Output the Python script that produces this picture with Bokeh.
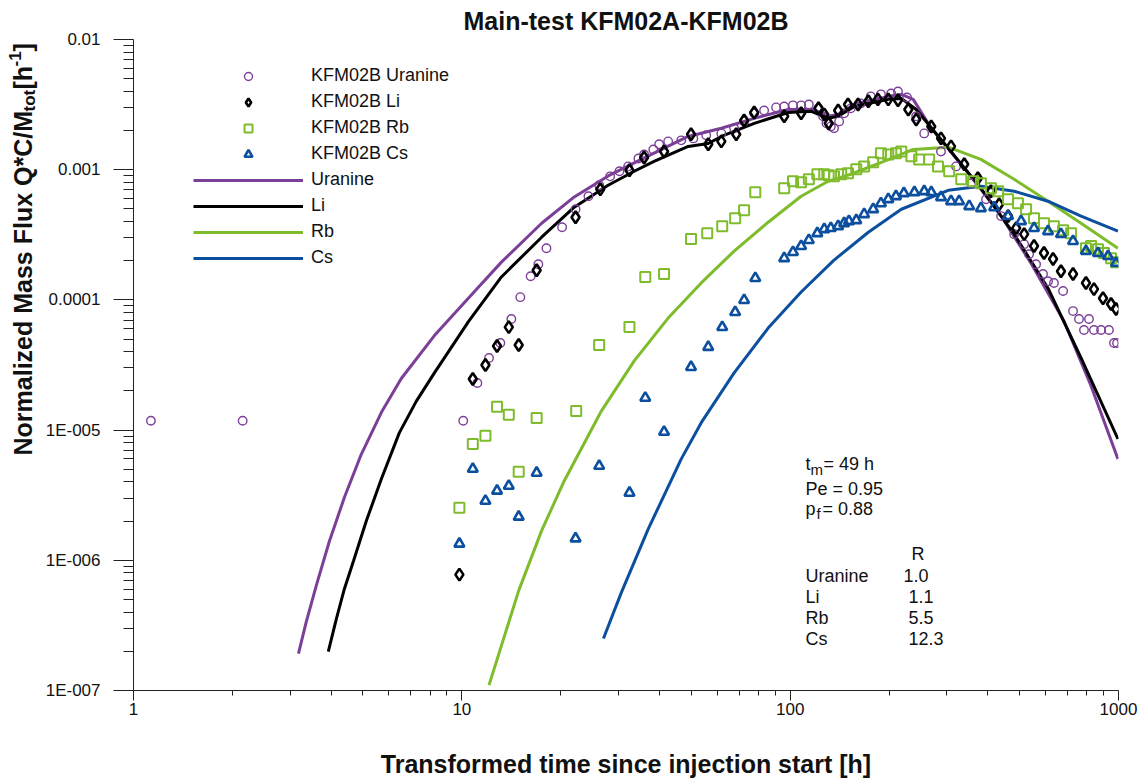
import math
from bokeh.plotting import figure
from bokeh.layouts import row
from bokeh.models import FixedTicker, CustomJSTickFormatter, Label, Legend, LegendItem
from bokeh.embed import file_html
from bokeh.resources import INLINE

# ---------------- data ----------------
x_tick_values = [1, 10, 100, 1000]
x_tick_labels = ["1", "10", "100", "1000"]
y_tick_values = [1e-7, 1e-6, 1e-5, 1e-4, 1e-3, 1e-2]
y_tick_labels = ["1E-007", "1E-006", "1E-005", "0.0001", "0.001", "0.01"]

uranine_t = [1.13, 2.15, 10.1, 11.15, 12.1, 13.1, 14.15, 15.07, 16.2, 17.1, 18.1, 20.2, 22.2, 24.3,
             26.2, 28.3, 30.2, 32.1, 34.5, 35.9, 38.3, 39.9, 42.5, 46.6, 50.7, 55.5, 61.7, 67.5,
             72.4, 77.7, 83.3, 90.6, 95.9, 102, 108, 114, 122, 126, 129, 133, 136, 141, 146, 153,
             164, 176, 189, 203, 213, 227, 242, 256, 288, 320, 356, 395, 439, 481, 516, 534, 561,
             589, 610, 636, 678, 727, 758, 813, 785, 842, 885, 935, 969, 990]
uranine_c = [1.18e-5, 1.18e-5, 1.18e-5, 2.30e-5, 3.58e-5, 4.67e-5, 7.13e-5, 1.05e-4, 1.52e-4, 1.88e-4,
             2.49e-4, 3.61e-4, 4.97e-4, 6.25e-4, 7.59e-4, 8.89e-4, 9.73e-4, 1.06e-3, 1.22e-3, 1.31e-3,
             1.43e-3, 1.57e-3, 1.65e-3, 1.68e-3, 1.74e-3, 1.84e-3, 1.90e-3, 2.08e-3, 2.35e-3, 2.71e-3,
             2.85e-3, 3.01e-3, 3.06e-3, 3.12e-3, 3.12e-3, 3.17e-3, 2.96e-3, 2.57e-3, 2.27e-3, 2.15e-3,
             2.08e-3, 2.35e-3, 2.71e-3, 2.96e-3, 3.23e-3, 3.66e-3, 3.79e-3, 3.85e-3, 3.99e-3, 3.59e-3,
             2.57e-3, 1.90e-3, 1.38e-3, 1.06e-3, 7.87e-4, 5.93e-4, 4.40e-4, 3.20e-4, 2.68e-4, 2.24e-4,
             1.88e-4, 1.58e-4, 1.39e-4, 1.35e-4, 1.17e-4, 8.20e-5, 7.13e-5, 7.13e-5, 5.87e-5, 5.87e-5,
             5.87e-5, 5.87e-5, 4.67e-5, 4.67e-5]

li_t = [9.83, 10.8, 11.8, 12.8, 13.9, 14.9, 16.9, 22.2, 26.4, 32.4, 35.9, 41.3, 49.9, 56.3, 61.7,
        68.5, 72.4, 77.7, 95.9, 108, 122, 127, 131, 140, 150, 161, 173, 185, 199, 213, 229, 242,
        269, 288, 309, 339, 373, 409, 433, 461, 488, 516, 553, 593, 632, 668, 727, 796, 842, 897,
        949, 983]
li_c = [7.76e-7, 2.47e-5, 3.16e-5, 4.43e-5, 6.18e-5, 4.50e-5, 1.69e-4, 4.31e-4, 7.08e-4, 9.89e-4,
        1.24e-3, 1.38e-3, 1.87e-3, 1.57e-3, 1.65e-3, 1.87e-3, 2.39e-3, 2.75e-3, 2.57e-3, 2.71e-3,
        2.96e-3, 2.66e-3, 2.27e-3, 2.85e-3, 3.17e-3, 3.17e-3, 3.35e-3, 3.47e-3, 3.47e-3, 3.41e-3,
        2.90e-3, 2.43e-3, 2.15e-3, 1.74e-3, 1.51e-3, 1.10e-3, 8.59e-4, 6.83e-4, 5.43e-4, 4.40e-4,
        3.56e-4, 3.20e-4, 2.59e-4, 2.29e-4, 2.06e-4, 1.66e-4, 1.58e-4, 1.35e-4, 1.21e-4, 1.03e-4,
        9.29e-5, 8.50e-5]

rb_t = [9.83, 10.8, 11.8, 12.8, 13.9, 14.9, 16.9, 22.3, 26.2, 32.4, 36.2, 41.3, 49.9, 55.9, 62.1,
        68.0, 72.4, 78.3, 95.9, 102, 108, 114, 121, 127, 131, 136, 143, 150, 159, 168, 179, 189,
        199, 210, 218, 234, 247, 265, 282, 305, 332, 361, 381, 409, 430, 461, 494, 523, 553, 593,
        636, 678, 717, 796, 825, 866, 903, 949, 983]
rb_c = [2.53e-6, 7.83e-6, 9.03e-6, 1.51e-5, 1.31e-5, 4.78e-6, 1.24e-5, 1.40e-5, 4.50e-5, 6.18e-5,
        1.50e-4, 1.58e-4, 2.93e-4, 3.25e-4, 3.68e-4, 4.24e-4, 4.89e-4, 6.71e-4, 7.20e-4, 8.15e-4,
        8.00e-4, 8.44e-4, 9.23e-4, 9.23e-4, 9.06e-4, 8.90e-4, 9.23e-4, 9.38e-4, 1.01e-3, 1.06e-3,
        1.14e-3, 1.34e-3, 1.31e-3, 1.34e-3, 1.38e-3, 1.27e-3, 1.20e-3, 1.20e-3, 1.06e-3, 9.73e-4,
        8.44e-4, 8.15e-4, 7.87e-4, 7.20e-4, 6.83e-4, 5.93e-4, 5.52e-4, 4.97e-4, 4.24e-4, 3.88e-4,
        3.68e-4, 3.43e-4, 3.25e-4, 2.49e-4, 2.59e-4, 2.45e-4, 2.29e-4, 2.09e-4, 1.95e-4]

cs_t = [9.83, 10.8, 11.8, 12.8, 13.9, 14.9, 16.9, 22.2, 26.2, 32.4, 36.2, 41.3, 49.9, 56.3, 62.1,
        68.0, 72.4, 78.3, 95.9, 102, 108, 114, 121, 127, 133, 140, 146, 151, 159, 168, 179, 189,
        199, 210, 222, 239, 256, 269, 288, 309, 327, 351, 381, 418, 461, 505, 553, 610, 668, 727,
        796, 866, 929, 983]
cs_c = [1.34e-6, 5.04e-6, 2.86e-6, 3.42e-6, 3.73e-6, 2.16e-6, 4.70e-6, 1.47e-6, 5.31e-6, 3.30e-6,
        1.77e-5, 9.69e-6, 3.05e-5, 4.35e-5, 6.18e-5, 8.06e-5, 9.97e-5, 1.47e-4, 2.09e-4, 2.33e-4,
        2.59e-4, 2.88e-4, 3.25e-4, 3.49e-4, 3.56e-4, 3.68e-4, 3.88e-4, 4.02e-4, 4.09e-4, 4.55e-4,
        4.97e-4, 5.52e-4, 5.93e-4, 6.25e-4, 6.59e-4, 6.71e-4, 6.83e-4, 6.71e-4, 6.14e-4, 5.73e-4,
        5.73e-4, 5.24e-4, 5.06e-4, 5.14e-4, 4.40e-4, 4.02e-4, 3.56e-4, 3.37e-4, 3.20e-4, 2.83e-4,
        2.37e-4, 2.29e-4, 2.17e-4, 1.92e-4]

fit_uranine_t = [3.18, 3.36, 3.61, 3.95, 4.39, 4.94, 5.69, 6.54, 8.25, 10.5, 13.2, 17.5, 22.0, 27.9,
                 35.2, 48.9, 61.7, 77.7, 98.6, 118, 130.5, 140, 157, 199, 218, 237, 269, 339, 430,
                 541, 682, 825, 996]
fit_uranine = [1.92e-7, 3.38e-7, 6.50e-7, 1.40e-6, 3.05e-6, 6.52e-6, 1.37e-5, 2.49e-5, 5.32e-5,
               1.04e-4, 1.95e-4, 3.88e-4, 6.18e-4, 8.96e-4, 1.20e-3, 1.80e-3, 2.08e-3, 2.48e-3,
               2.90e-3, 2.90e-3, 2.57e-3, 2.66e-3, 3.17e-3, 3.66e-3, 3.79e-3, 3.47e-3, 2.08e-3,
               1.03e-3, 4.80e-4, 1.92e-4, 6.88e-5, 2.18e-5, 6.01e-6]

fit_li_t = [3.92, 4.15, 4.39, 4.68, 5.12, 5.69, 6.45, 7.27, 8.25, 10.5, 13.2, 17.5, 22.0, 27.9, 33.5,
            38.5, 48.9, 56.3, 61.7, 77.7, 98.6, 116, 130.5, 140, 157, 199, 218, 242, 303, 381, 481,
            610, 769, 996]
fit_li = [1.99e-7, 3.56e-7, 6.05e-7, 9.93e-7, 2.01e-6, 4.23e-6, 9.52e-6, 1.67e-5, 2.75e-5, 6.88e-5,
          1.50e-4, 3.03e-4, 5.15e-4, 7.59e-4, 9.73e-4, 1.16e-3, 1.51e-3, 1.59e-3, 1.80e-3, 2.27e-3,
          2.75e-3, 2.81e-3, 2.48e-3, 2.57e-3, 3.06e-3, 3.47e-3, 3.53e-3, 2.90e-3, 1.46e-3, 7.20e-4,
          3.20e-4, 1.23e-4, 3.58e-5, 8.56e-6]

fit_rb_t = [12.1, 13.2, 14.9, 17.5, 20.5, 26.6, 33.5, 42.5, 53.6, 67.5, 85.7, 108, 130.5, 153, 193,
            237, 303, 381, 481, 610, 769, 996]
fit_rb = [1.1e-7, 2.21e-7, 5.85e-7, 1.69e-6, 4.07e-6, 1.40e-5, 3.40e-5, 7.25e-5, 1.35e-4, 2.37e-4,
          3.95e-4, 6.25e-4, 8.15e-4, 9.23e-4, 1.16e-3, 1.43e-3, 1.49e-3, 1.20e-3, 8.44e-4, 5.73e-4,
          3.88e-4, 2.49e-4]

fit_cs_t = [27.0, 30.6, 37.0, 46.6, 53.6, 67.5, 85.7, 108, 136, 173, 218, 303, 381, 481, 610, 769, 996]
fit_cs = [2.51e-7, 5.65e-7, 1.75e-6, 6.01e-6, 1.14e-5, 2.75e-5, 6.08e-5, 1.15e-4, 2.02e-4, 3.31e-4,
          4.97e-4, 6.95e-4, 7.46e-4, 6.83e-4, 5.73e-4, 4.40e-4, 3.37e-4]

# ---------------- style ----------------
PURPLE = "#7b3f98"
BLACK = "#000000"
GREEN = "#7fbc2c"
BLUE = "#0b4f9e"
FONT = "Liberation Sans"
TXT = "#111111"

W, H = 1146, 783
SIDE_W = 40                      # narrow strip holding the rotated y-axis title
ML, MR, MT, MB = 133, 28, 38, 93  # borders measured on the full page
FRAME_BOTTOM = H - MB

p = figure(width=W - SIDE_W, height=H, x_axis_type="log", y_axis_type="log",
           x_range=(1, 1000), y_range=(1e-7, 1e-2),
           output_backend="svg", toolbar_location=None,
           min_border_left=ML - SIDE_W, min_border_right=MR,
           min_border_top=MT, min_border_bottom=MB)
p.outline_line_color = None
p.grid.visible = False
p.background_fill_color = "white"
p.border_fill_color = "white"

p.title.text = "Main-test KFM02A-KFM02B"
p.title.align = "center"
p.title.text_font = FONT
p.title.text_font_size = "25px"
p.title.text_font_style = "bold"
p.title.text_color = TXT
p.title.standoff = 9

x_minor = [m * d for d in [1, 10, 100] for m in range(2, 10)]
y_minor = [m * d for d in [1e-7, 1e-6, 1e-5, 1e-4, 1e-3] for m in range(2, 10)]
p.xaxis.ticker = FixedTicker(ticks=x_tick_values, minor_ticks=x_minor)
p.yaxis.ticker = FixedTicker(ticks=y_tick_values, minor_ticks=y_minor)

fmt_code = """
let b = 0, d = 1e9;
for (let i = 0; i < v.length; i++) {
  const e = Math.abs(Math.log10(tick) - Math.log10(v[i]));
  if (e < d) { d = e; b = i; }
}
return l[b];
"""
p.xaxis.formatter = CustomJSTickFormatter(args=dict(v=x_tick_values, l=x_tick_labels), code=fmt_code)
p.yaxis.formatter = CustomJSTickFormatter(args=dict(v=y_tick_values, l=y_tick_labels), code=fmt_code)

for ax in p.axis:
    ax.axis_line_color = "#222222"
    ax.axis_line_width = 1
    ax.major_tick_line_color = "#222222"
    ax.minor_tick_line_color = "#222222"
    ax.major_tick_in = 0
    ax.minor_tick_in = 0
    ax.major_label_text_font = FONT
    ax.major_label_text_font_size = "17px"
    ax.major_label_text_color = TXT

p.xaxis.major_tick_out = 10
p.xaxis.minor_tick_out = 5
p.xaxis.major_label_standoff = 2
p.yaxis.major_tick_out = 20
p.yaxis.minor_tick_out = 10
p.yaxis.major_label_standoff = 13

p.xaxis.axis_label = "Transformed time since injection start [h]"
p.xaxis.axis_label_text_font = FONT
p.xaxis.axis_label_text_font_style = "bold"
p.xaxis.axis_label_text_font_size = "25px"
p.xaxis.axis_label_text_color = TXT
p.xaxis.axis_label_standoff = 32

# model curves
l_u = p.line(fit_uranine_t, fit_uranine, line_color=PURPLE, line_width=3)
l_li = p.line(fit_li_t, fit_li, line_color=BLACK, line_width=3)
l_rb = p.line(fit_rb_t, fit_rb, line_color=GREEN, line_width=3)
l_cs = p.line(fit_cs_t, fit_cs, line_color=BLUE, line_width=3)

# measured data
r_u = p.scatter(uranine_t, uranine_c, marker="circle", size=8.5, fill_color=None,
                line_color=PURPLE, line_width=1.4)
r_li = p.scatter(li_t, li_c, marker="diamond", size=12, fill_color=None,
                 line_color=BLACK, line_width=2.6)
r_rb = p.scatter(rb_t, rb_c, marker="square", size=10, fill_color=None,
                 line_color=GREEN, line_width=2)
r_cs = p.scatter(cs_t, cs_c, marker="triangle", size=10, fill_color=None,
                 line_color=BLUE, line_width=2.6)

legend = Legend(items=[
    LegendItem(label="KFM02B Uranine", renderers=[r_u]),
    LegendItem(label="KFM02B Li", renderers=[r_li]),
    LegendItem(label="KFM02B Rb", renderers=[r_rb]),
    LegendItem(label="KFM02B Cs", renderers=[r_cs]),
    LegendItem(label="Uranine", renderers=[l_u]),
    LegendItem(label="Li", renderers=[l_li]),
    LegendItem(label="Rb", renderers=[l_rb]),
    LegendItem(label="Cs", renderers=[l_cs]),
], location=(60, 422), glyph_width=110, glyph_height=20, label_height=20,
   label_standoff=8, spacing=5, padding=0, margin=0,
   border_line_color=None, background_fill_alpha=0,
   label_text_font=FONT, label_text_font_size="18px", label_text_color=TXT)
p.add_layout(legend)


def add_text(fig, text, sx, sy, size="18px", bold=False, align="left", angle=0.0):
    fig.add_layout(Label(x=sx, y=sy, x_units="screen", y_units="screen",
                         text=text, text_font=FONT, text_font_size=size,
                         text_font_style="bold" if bold else "normal",
                         text_align=align, text_baseline="middle", angle=angle,
                         text_color=TXT))


def note(text, cx, cy, size="18px"):
    # cx, cy are page pixels; convert to the main frame's screen units
    add_text(p, text, cx - ML, FRAME_BOTTOM - cy, size=size)


note("t", 805, 463)
note("m", 810, 469, size="15px")
note("= 49 h", 823, 463)
note("Pe = 0.95", 805, 488)
note("p", 805, 508)
note("f", 816, 513, size="15px")
note("= 0.88", 822, 508)
note("R", 911, 553)
note("Uranine", 805, 575)
note("1.0", 903, 575)
note("Li", 805, 596)
note("1.1", 908, 596)
note("Rb", 805, 617)
note("5.5", 908, 617)
note("Cs", 805, 638)
note("12.3", 908, 638)

# ---- side strip with the rotated y-axis title ----
side = figure(width=SIDE_W, height=H, x_range=(0, 1), y_range=(0, 1),
              output_backend="svg", toolbar_location=None,
              x_axis_location=None, y_axis_location=None,
              min_border=0, min_border_left=0, min_border_right=0,
              min_border_top=0, min_border_bottom=0)
side.outline_line_color = None
side.grid.visible = False
side.background_fill_color = "white"
side.border_fill_color = "white"

A = math.pi / 2


def ytitle(text, cx, cy, size):
    add_text(side, text, cx, H - cy, size=size, bold=True, angle=A)


ytitle("Normalized Mass Flux  Q*C/M", 22, 548, "25px")
ytitle("tot", 29, 204, "17px")
ytitle("[h", 22, 182, "25px")
ytitle("-1", 14, 159, "17px")
ytitle("]", 22, 144, "25px")

layout = row(side, p, spacing=0)
open("out.html", "w").write(file_html(layout, INLINE))
